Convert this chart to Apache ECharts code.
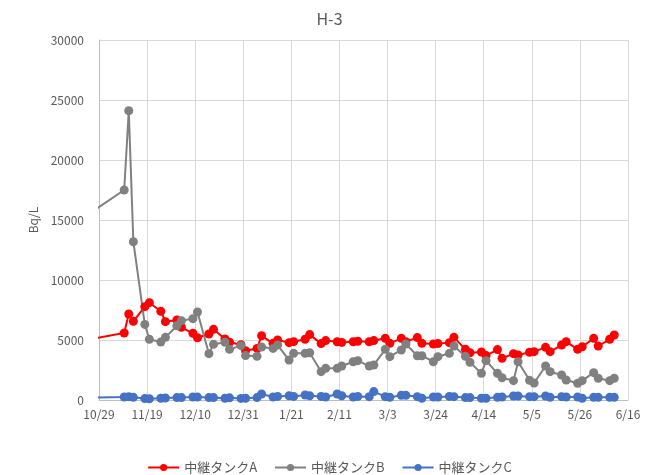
<!DOCTYPE html>
<html>
<head>
<meta charset="utf-8">
<script src="https://cdn.jsdelivr.net/npm/echarts@6/dist/echarts.min.js"></script>
<style>html,body{margin:0;padding:0;background:#fff;}#c{width:659px;height:475px;}</style>
</head>
<body>
<div id="c"></div>
<script>
const startDate = '2019-10-29';
const tickLabels = ['10/29','11/19','12/10','12/31','1/21','2/11','3/3','3/24','4/14','5/5','5/26','6/16'];
const dates = ['2019-10-22','2019-11-09','2019-11-11','2019-11-13',
'2019-11-18','2019-11-20','2019-11-25','2019-11-27','2019-12-02','2019-12-04','2019-12-09','2019-12-11','2019-12-16','2019-12-18','2019-12-23','2019-12-25','2019-12-30',
'2020-01-01','2020-01-06','2020-01-08','2020-01-13','2020-01-15','2020-01-20','2020-01-22','2020-01-27','2020-01-29',
'2020-02-03','2020-02-05','2020-02-10','2020-02-12','2020-02-17','2020-02-19','2020-02-24','2020-02-26',
'2020-03-02','2020-03-04','2020-03-09','2020-03-11','2020-03-16','2020-03-18','2020-03-23','2020-03-25','2020-03-30',
'2020-04-01','2020-04-06','2020-04-08','2020-04-13','2020-04-15','2020-04-20','2020-04-22','2020-04-27','2020-04-29',
'2020-05-04','2020-05-06','2020-05-11','2020-05-13','2020-05-18','2020-05-20','2020-05-25','2020-05-27',
'2020-06-01','2020-06-03','2020-06-08','2020-06-10'];
const tankA = [4960,5580,7170,6560,
7780,8110,7390,6530,6670,6060,5560,5190,5500,5890,5080,4810,4600,
4100,4300,5350,4720,5000,4780,4860,5060,5450,
4700,4950,4850,4800,4850,4900,4850,4950,
5140,4720,5140,4860,5200,4720,4670,4700,4780,
5220,4220,3940,4000,3700,4200,3470,3860,3750,
3980,4030,4390,4030,4580,4860,4220,4440,
5140,4500,5060,5420];
const tankB = [15170,17500,24100,13190,
6300,5060,4830,5220,6190,6610,6780,7330,3860,4640,4810,4220,4530,
3700,3640,4420,4300,4580,3330,3890,3890,3940,
2360,2640,2640,2830,3190,3280,2830,2920,
4220,3610,4170,4670,3690,3690,3190,3610,3890,
4500,3640,3150,2220,3280,2220,1850,1610,3190,
1640,1420,2830,2360,2080,1670,1390,1610,
2280,1810,1610,1810];
const tankC = [200,250,280,220,
120,100,150,170,200,200,250,240,200,200,150,180,130,
150,200,500,250,300,350,300,420,350,
300,250,500,350,250,300,280,700,
280,220,390,390,280,150,250,250,300,
280,200,200,150,150,220,250,330,330,
280,280,330,220,280,250,250,150,
220,220,220,220];

const DAY = 86400000;
const t0 = Date.parse(startDate + 'T00:00:00Z');
function dayOf(s){ return Math.round((Date.parse(s + 'T00:00:00Z') - t0) / DAY); }
function pairs(vals){ return dates.map((d,i)=>[dayOf(d), vals[i]]); }

const font = '"Noto Sans CJK JP", "Noto Sans", sans-serif';
const txt = '#595959';
const chart = echarts.init(document.getElementById('c'), null, {renderer:'canvas'});
function mk(name, vals, color){
  return {name:name, type:'line', data:pairs(vals), clip:true,
    symbol:'circle', symbolSize:9, showSymbol:true,
    lineStyle:{color:color, width:2}, itemStyle:{color:color}, emphasis:{disabled:true}};
}
chart.setOption({
  animation:false,
  textStyle:{fontFamily:font},
  title:{text:'H-3', left:'center', top:6, textStyle:{fontFamily:font, fontSize:16, fontWeight:'normal', color:txt}},
  grid:{left:99, right:31, top:40, bottom:75, containLabel:false},
  legend:{top:456, left:'center', itemGap:17, itemWidth:31, itemHeight:9,
    textStyle:{fontFamily:font, fontSize:13, color:txt},
    data:['中継タンクA','中継タンクB','中継タンクC']},
  xAxis:{type:'value', min:0, max:231, interval:21,
    axisLine:{show:true, lineStyle:{color:'#bfbfbf'}}, axisTick:{show:false},
    splitLine:{show:true, lineStyle:{color:'#d9d9d9'}},
    axisLabel:{fontFamily:font, fontSize:12, color:txt, margin:8,
      formatter:function(v){ const k = Math.round(v/21); return tickLabels[k] || ''; }}},
  yAxis:{type:'value', min:0, max:30000, interval:5000, name:'Bq/L', nameLocation:'middle', nameGap:58,
    nameTextStyle:{fontFamily:font, fontSize:12, color:txt},
    axisLine:{show:true, lineStyle:{color:'#bfbfbf'}}, axisTick:{show:false},
    splitLine:{show:true, lineStyle:{color:'#d9d9d9'}},
    axisLabel:{fontFamily:font, fontSize:12, color:txt, margin:15, formatter:function(v){return String(v);}}},
  series:[mk('中継タンクA', tankA, '#ff0000'), mk('中継タンクB', tankB, '#808080'), mk('中継タンクC', tankC, '#4472c4')]
});
</script>
</body>
</html>
